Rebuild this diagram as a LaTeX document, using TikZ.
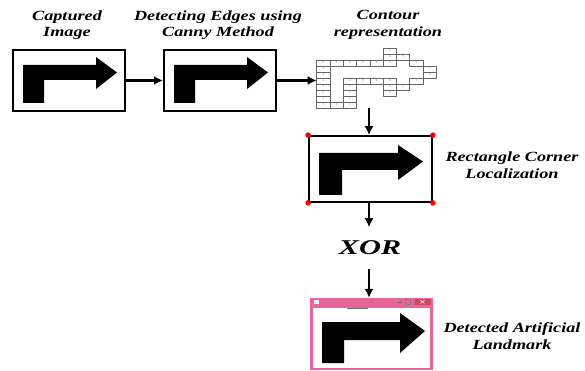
\documentclass[tikz,border=0pt]{standalone}
\usepackage{fontspec}
\usepackage{graphicx}
\setmainfont{Liberation Serif}
\usetikzlibrary{arrows.meta}
\newcommand\wide[1]{\scalebox{1.3}[1]{#1}}
\newcommand\bentarr[9]{\fill (#1,#5) -- (#1,#3) -- (#6,#3) -- (#6,#7) -- (#9,{(#3+#4)/2}) -- (#6,#8) -- (#6,#4) -- (#2,#4) -- (#2,#5) -- cycle;}
\newcommand\ccell[3]{\draw[gridline] ({316.7+13.3*#1},{48+6*#2}) rectangle ++(13.3,6);
  \node[digit] at ({316.7+13.3*#1+6.65},{48+6*#2+3}) {#3};}
\definecolor{winpink}{HTML}{E6669C}
\definecolor{closered}{HTML}{C94A5A}
\tikzset{
  lab/.style={font=\bfseries\itshape\fontsize{14}{16.5}\selectfont, align=center, inner sep=0pt},
  imgbox/.style={draw=black, line width=2pt, fill=white, inner sep=0pt},
  flow/.style={line width=2.4pt, -{Latex[length=9pt,width=9pt]}},
  gridline/.style={draw=black!60, line width=0.7pt},
  digit/.style={font=\fontsize{3}{3}\selectfont, text=black!55, inner sep=0pt},
  corner/.style={fill=red, draw=none},
}
\begin{document}
\begin{tikzpicture}[x=1pt,y=-1pt]
\useasboundingbox (0,0) rectangle (585,371);
% labels
\node[lab] (l1) at (67,25) {\wide{Captured}\\\wide{Image}};
\node[lab] (l2) at (218,25) {\wide{Detecting Edges using}\\\wide{Canny Method}};
\node[lab] (l3) at (388,25) {\wide{Contour}\\\wide{representation}};
\node[lab] (l4) at (512,165) {\wide{Rectangle Corner}\\\wide{Localization}};
\node[lab] (l5) at (512,336) {\wide{Detected Artificial}\\\wide{Landmark}};
% box 1
\node[imgbox, minimum width=112pt, minimum height=61pt] (b1) at (69,80.5) {};
\bentarr{23}{44}{65}{80}{103}{96}{57}{89}{117}
% box 2
\node[imgbox, minimum width=112pt, minimum height=61pt] (b2) at (220,80.5) {};
\bentarr{174}{195}{65}{80}{103}{247}{57}{89}{268}
% contour grid
\ccell{5}{0}{5}
\ccell{5}{1}{6}\ccell{6}{1}{5}
\ccell{0}{2}{6}\ccell{1}{2}{6}\ccell{2}{2}{6}\ccell{3}{2}{6}\ccell{4}{2}{6}\ccell{5}{2}{6}\ccell{7}{2}{5}
\ccell{0}{3}{4}\ccell{8}{3}{7}
\ccell{0}{4}{4}\ccell{8}{4}{4}
\ccell{0}{5}{4}\ccell{2}{5}{2}\ccell{3}{5}{0}\ccell{4}{5}{0}\ccell{5}{5}{0}\ccell{7}{5}{1}
\ccell{0}{6}{3}\ccell{2}{6}{2}\ccell{5}{6}{6}\ccell{6}{6}{1}
\ccell{0}{7}{3}\ccell{2}{7}{2}\ccell{5}{7}{6}
\ccell{0}{8}{3}\ccell{2}{8}{2}
\ccell{0}{9}{3}\ccell{1}{9}{2}\ccell{2}{9}{1}
\coordinate (contW) at (316.7,80.5);
\coordinate (contS) at (369,108);
% box 3
\node[imgbox, line width=1.8pt, minimum width=123pt, minimum height=66pt] (b3) at (370.5,169) {};
\bentarr{319}{342}{153}{170}{195}{398}{145}{180}{423}
\foreach \a in {north west,north east,south west,south east}{\fill[corner] (b3.\a) circle (2.8pt);}
% XOR
\node[font=\bfseries\itshape\fontsize{21}{23}\selectfont, inner xsep=2pt, inner ysep=13.5pt] (xor) at (370,248) {\scalebox{1.45}[1]{XOR}};
% window
\node[fill=winpink, draw=none, minimum width=123pt, minimum height=72pt, inner sep=0pt] (win) at (371.5,334) {};
\fill[white] (313,307.5) rectangle (430,367.5);
\fill[white!85!cyan] (314,300) rectangle (319,304);
\node[font=\fontsize{5}{5}\selectfont, text=black!60, inner sep=0pt] at (372,302) {ε};
\draw[black!60, line width=0.8pt] (397,302.5) -- (402,302.5);
\draw[black!50, line width=0.5pt] (405.5,299.5) rectangle (410.5,304.5);
\fill[closered] (414.5,298.5) rectangle (430.5,305);
\draw[white, line width=0.5pt] (420.5,300.3) -- (424.5,303.3) (420.5,303.3) -- (424.5,300.3);
\draw[black!55, line width=0.6pt] (347,308.5) -- (368,308.5);
\bentarr{322}{344}{322}{340}{363}{400}{313}{353}{425}
% connectors
\draw[flow] (b1.east) -- (b2.west);
\draw[flow] (b2.east) -- (contW);
\draw[flow] (contS) -- (contS |- b3.north);
\draw[flow] (b3.south -| contS) -- (xor.north -| contS);
\draw[flow] (xor.south -| contS) -- (win.north -| contS);
\end{tikzpicture}
\end{document}
